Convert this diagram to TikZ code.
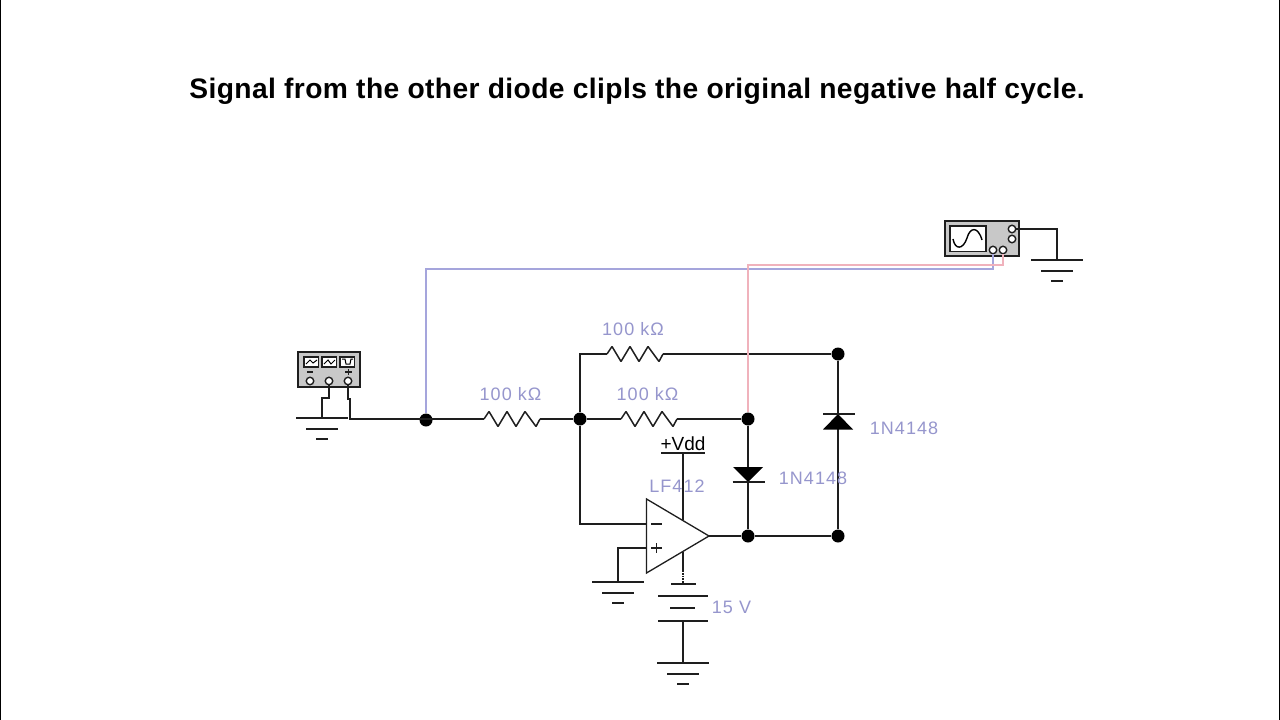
\documentclass[tikz,border=0pt]{standalone}
\usepackage{fontspec}
\setmainfont{Liberation Sans}
\usetikzlibrary{calc}
\definecolor{labelblue}{RGB}{150,150,205}
\definecolor{probeblue}{RGB}{165,165,220}
\definecolor{probered}{RGB}{240,178,188}
\definecolor{wirecol}{RGB}{30,30,30}
\definecolor{boxgray}{RGB}{200,200,200}
\tikzset{
  wire/.style = {draw = wirecol, line width = 1.8pt},
  junction/.style = {circle, fill = black, inner sep = 0pt, minimum size = 13pt},
  value/.style = {text = labelblue, font = \fontsize{18}{18}\selectfont\addfontfeature{LetterSpace=6}, inner sep = 0pt},
  title/.style = {font = \fontsize{28.2}{28}\selectfont\bfseries\addfontfeature{LetterSpace=1.4}, inner sep = 0pt},
  box/.style = {draw = wirecol, fill = boxgray, line width = 1.8pt},
  term/.style = {circle, draw = wirecol, fill = white, line width = 1.4pt, inner sep = 0pt, minimum size = 7.5pt},
}
\newcommand{\earth}[1]{%
  \draw [wire] ($(#1) + (-26,0)$) -- ($(#1) + (26,0)$)
  ($(#1) + (-16,11)$) -- ($(#1) + (16,11)$)
  ($(#1) + (-6,21)$) -- ($(#1) + (6,21)$);
}
\newcommand{\zigzag}[1]{%
  \draw [wire, line width = 1.5pt, line join = bevel] (#1) -- ++(5,-7.5) -- ++(9,15) -- ++(9,-15) -- ++(9,15) -- ++(9,-15) -- ++(11,15) -- ++(4,-7.5);
}
\begin{document}
\begin{tikzpicture}[x = 1pt, y = -1pt]
  \useasboundingbox (0,0) rectangle (1280,720);
  \fill [white] (0,0) rectangle (1280,720);
  \draw [line width = 1.6pt] (0.6,0) -- (0.6,720) (1279.4,0) -- (1279.4,720);
  \node [title] (heading) at (637,91) {Signal from the other diode clipls the original negative half cycle.};

  % nodes of the circuit
  \node [junction] (in) at (426,420) {};
  \node [junction] (sum) at (580,419) {};
  \node [junction] (topright) at (838,354) {};
  \node [junction] (mid) at (748,419) {};
  \node [junction] (out) at (748,536) {};
  \node [junction] (botright) at (838,536) {};

  % resistors
  \coordinate (r1a) at (484,419);
  \coordinate (r1b) at (540,419);
  \coordinate (r2a) at (621,419);
  \coordinate (r2b) at (677,419);
  \coordinate (r3a) at (607,354);
  \coordinate (r3b) at (663,354);
  \zigzag{r1a} \zigzag{r2a} \zigzag{r3a}
  \node [value] (r1lab) at (510.5,394) {100 kΩ};
  \node [value] (r2lab) at (647.5,394) {100 kΩ};
  \node [value] (r3lab) at (633,329) {100 kΩ};

  \draw [wire] (in.center |- r1a) -- (r1a) (r1b) -- (sum) -- (r2a) (r2b) -- (mid);
  \draw [wire] (sum) -- (sum |- r3a) -- (r3a) (r3b) -- (topright);
  \draw [wire] (topright) -- (botright) -- (out);
  \draw [wire] (mid) -- (out);

  % diodes
  \fill (733,467) -- (763,467) -- (748,482) -- cycle;
  \draw [wire] (732.5,482) -- (765,482);
  \fill (823,429.5) -- (853,429.5) -- (838,414) -- cycle;
  \draw [wire] (823,414) -- (855,414);
  \node [value] (d1lab) at (813,478) {1N4148};
  \node [value] (d2lab) at (904,428) {1N4148};

  % op amp
  \node [value] (oplab) at (677,486) {LF412};
  \draw [wire, line width = 1.3pt] (646.5,499) -- (709,536) -- (646.5,573) -- cycle;
  \draw [wire] (sum) -- (580,524) -- (646.5,524);
  \draw [wire] (651,524) -- (662,524) (651,548) -- (662,548) (656.5,543) -- (656.5,553);
  \draw [wire] (646.5,548) -- (618,548) -- (618,582);
  \earth{618,582}
  \draw [wire] (709,536) -- (out);
  \draw [wire] (683,453) -- (683,520);
  \draw [wire] (661,453) -- (705,453);
  \node [font = \fontsize{19}{19}\selectfont, inner sep = 0pt] (vdd) at (683,444) {+Vdd};
  \draw [wire] (683,552) -- (683,570);
  \draw [wire, densely dotted] (683,570) -- (683,584);
  \draw [wire] (671,584) -- (696,584);

  % battery
  \draw [wire] (658,596) -- (708,596) (670,608) -- (695,608) (658,621) -- (708,621);
  \draw [wire] (683,621) -- (683,663);
  \earth{683,663}
  \node [value] (vlab) at (731.5,607) {15 V};

  % function generator
  \draw [box] (298,352) rectangle (360,387);
  \foreach \px in {304,322,340} {
    \draw [fill = white, draw = wirecol, line width = 1.4pt] (\px,357) rectangle ++(14.5,10);
  }
  \draw [line width = 1pt] (306,364) -- (310,360) -- (313,363) -- (317,360);
  \draw [line width = 1pt] (324,364) -- (328,360) -- (331,364) -- (335,360);
  \draw [line width = 1pt] (342,359) -- (345,359) -- (346,364) -- (350,364) -- (351,359) -- (353,359);
  \draw [wirecol, line width = 1.4pt] (307,372) -- (313,372) (345,372) -- (352,372) (348.5,369) -- (348.5,375);
  \node [term] (gm) at (310,381) {};
  \node [term] (gc) at (329,381) {};
  \node [term] (gp) at (348,381) {};
  \draw [wire] (gc) -- (329,398) -- (322,398) -- (322,418);
  \draw [wire] (gp) -- (348,399) -- (350,399) -- (350,419) -- (in.center |- r1a);
  \earth{322,418}

  % oscilloscope
  \draw [box] (945,221) rectangle (1019,256);
  \draw [fill = white, draw = wirecol, line width = 1.8pt] (950,226) rectangle (986,251.5);
  \draw [line width = 1.4pt] (953,239) .. controls (955,250) and (963,250) .. (967,238) .. controls (970,227) and (978,226) .. (982,240);
  \node [term] (sa) at (993,250) {};
  \node [term] (sb) at (1003,250) {};
  \node [term] (sg) at (1012,229) {};
  \node [term] (sh) at (1012,239) {};
  \draw [wire] (sg) -- (1057,229) -- (1057,260);
  \earth{1057,260}

  % probes
  \draw [probeblue, line width = 1.8pt] (in) -- (426,269) -- (993,269) -- (sa);
  \draw [probered, line width = 1.8pt] (mid) -- (748,265) -- (1003,265) -- (sb);
\end{tikzpicture}
\end{document}
